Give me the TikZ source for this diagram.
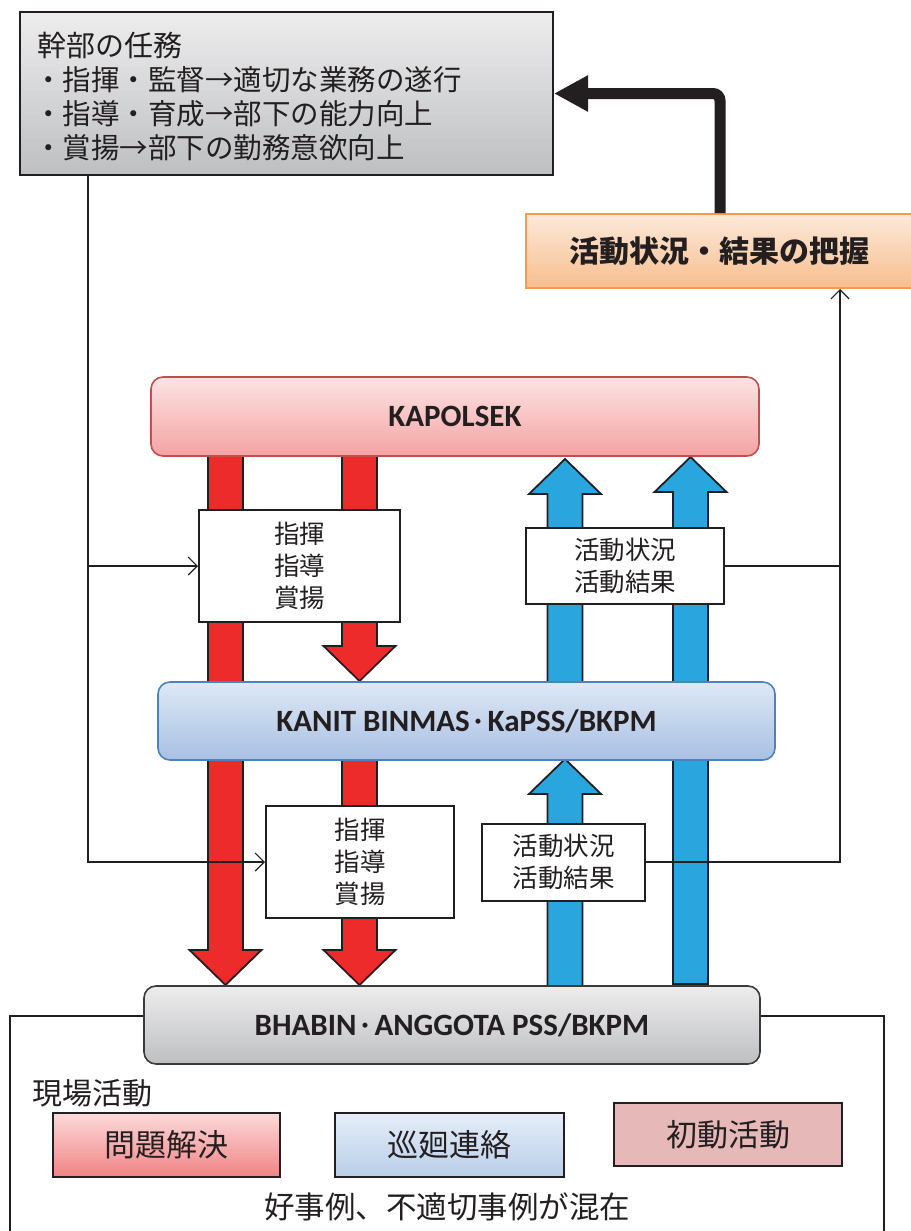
\documentclass[tikz,border=0pt]{standalone}
\usepackage{fontspec}
\newfontfamily\jp{Noto Sans CJK JP}
\newfontfamily\lat{Carlito}
\usetikzlibrary{arrows.meta}
\definecolor{ink}{HTML}{231F20}
\definecolor{redarr}{HTML}{EE2B2B}
\definecolor{bluearr}{HTML}{2AA6DF}
\definecolor{orgline}{HTML}{F39A55}
\definecolor{orgtop}{RGB}{253,233,217}
\definecolor{orgbot}{RGB}{247,190,142}
\definecolor{kapline}{RGB}{192,80,77}
\definecolor{kaptop}{RGB}{253,227,228}
\definecolor{kapbot}{RGB}{244,163,164}
\definecolor{kanline}{RGB}{79,129,189}
\definecolor{kantop}{RGB}{223,232,245}
\definecolor{kanbot}{RGB}{168,192,227}
\definecolor{bhaline}{RGB}{59,59,59}
\definecolor{graytop}{RGB}{237,237,238}
\definecolor{graybot}{RGB}{190,191,193}
\definecolor{probtop}{RGB}{252,217,218}
\definecolor{probbot}{RGB}{240,131,132}
\definecolor{pattop}{RGB}{230,238,248}
\definecolor{patbot}{RGB}{185,205,233}
\definecolor{firstfill}{RGB}{230,185,184}
\newcommand\dnarrow[4]{\filldraw[fill=#4, draw=ink, line width=1.8pt, line join=miter] (#1-17.5,#2) -- (#1+17.5,#2) -- (#1+17.5,#3-35) -- (#1+36,#3-35) -- (#1,#3) -- (#1-36,#3-35) -- (#1-17.5,#3-35) -- cycle;}
\newcommand\uparrowblk[4]{\filldraw[fill=#4, draw=ink, line width=1.8pt, line join=miter] (#1-17.5,#2) -- (#1-17.5,#3+35) -- (#1-36,#3+35) -- (#1,#3) -- (#1+36,#3+35) -- (#1+17.5,#3+35) -- (#1+17.5,#2) -- cycle;}
\newcommand\jpdot{\raisebox{3pt}{\jp\bfseries\fontsize{18}{20}\selectfont ・}}
\begin{document}
\begin{tikzpicture}[x=1pt,y=-1pt,
  whitebox/.style={draw=ink, line width=2pt, fill=white, inner sep=0pt, align=center, text=ink,
    font=\jp\fontsize{25.5}{32}\selectfont},
  level/.style={rounded corners=12pt, line width=1.6pt, inner sep=0pt, text=ink,
    font=\lat\bfseries\fontsize{31}{36}\selectfont},
  actbox/.style={draw=ink, line width=2pt, inner sep=0pt, text=ink,
    font=\jp\fontsize{31}{36}\selectfont},
  plain/.style={inner sep=0pt, text=ink, anchor=west},
  thinline/.style={draw=ink, line width=1.2pt},
  thinarr/.style={thinline, -{Straight Barb[length=9pt,width=18pt,line width=1.2pt]}},
  fatarr/.style={draw=ink, line width=11pt, rounded corners=7pt, -{Triangle[length=34pt,width=34pt]}}
]
\useasboundingbox (0,0) rectangle (910,1231);

% outer frame of field activities
\draw[ink, line width=2pt] (10,1240) -- (10,1016) -- (884,1016) -- (884,1240);

% block arrows (behind the level boxes)
\dnarrow{225.5}{450}{985}{redarr}
\dnarrow{359.5}{450}{681}{redarr}
\dnarrow{359.5}{755}{985}{redarr}
\uparrowblk{565}{690}{459}{bluearr}
\uparrowblk{565}{992}{759}{bluearr}
\uparrowblk{690.5}{984}{457}{bluearr}

% top duties box
\node[draw=ink, line width=2pt, top color=graytop, bottom color=graybot, minimum width=533pt, minimum height=163pt, inner sep=0pt] (duty) at (286.5,93.5) {};
\node[plain, font=\jp\fontsize{29}{32}\selectfont] (t0) at (37,45) {幹部の任務};
\node[plain, font=\jp\fontsize{28.5}{32}\selectfont] (t1) at (34,80) {・指揮・監督→適切な業務の遂行};
\node[plain, font=\jp\fontsize{28.5}{32}\selectfont] (t2) at (34,114) {・指導・育成→部下の能力向上};
\node[plain, font=\jp\fontsize{28.5}{32}\selectfont] (t3) at (34,148) {・賞揚→部下の勤務意欲向上};

% orange box
\node[draw=orgline, line width=2pt, top color=orgtop, bottom color=orgbot, minimum width=386pt, minimum height=74pt, inner sep=0pt, text=ink, font=\jp\bfseries\fontsize{30}{34}\selectfont] (grasp) at (719,251) {活動状況・結果の把握};

% level boxes
\node[level, draw=kapline, top color=kaptop, bottom color=kapbot, minimum width=608pt, minimum height=79pt] (kap) at (455,416.5) {KAPOLSEK};
\node[level, draw=kanline, top color=kantop, bottom color=kanbot, minimum width=617pt, minimum height=78pt] (kanit) at (466.5,721) {KANIT BINMAS\jpdot KaPSS/BKPM};
\node[level, draw=bhaline, top color=graytop, bottom color=graybot, minimum width=616pt, minimum height=78pt] (bhabin) at (452,1025) {BHABIN\jpdot ANGGOTA PSS/BKPM};

% white label boxes
\node[whitebox, minimum width=201pt, minimum height=112pt] (box1) at (299.5,566) {指揮\\指導\\賞揚};
\node[whitebox, minimum width=198pt, minimum height=76pt] (box2) at (625,566) {活動状況\\活動結果};
\node[whitebox, minimum width=188pt, minimum height=112pt] (box3) at (360,862) {指揮\\指導\\賞揚};
\node[whitebox, minimum width=163pt, minimum height=77pt] (box4) at (563.5,862) {活動状況\\活動結果};

% field activities
\node[plain, font=\jp\fontsize{30}{34}\selectfont] (field) at (32,1093) {現場活動};
\node[actbox, top color=probtop, bottom color=probbot, minimum width=227pt, minimum height=64pt] (prob) at (166.5,1145) {問題解決};
\node[actbox, top color=pattop, bottom color=patbot, minimum width=229pt, minimum height=64pt] (patrol) at (449.5,1145) {巡廻連絡};
\node[actbox, fill=firstfill, minimum width=228pt, minimum height=63pt] (first) at (728,1134.5) {初動活動};
\node[inner sep=0pt, text=ink, font=\jp\fontsize{30.5}{34}\selectfont] (mixed) at (447,1207) {好事例、不適切事例が混在};

% connectors
\coordinate (lft) at (88,0);
\coordinate (rgt) at (840,0);
\coordinate (blk) at (720,0);
\draw[fatarr] (grasp.north -| blk) |- (duty.east);
\draw[thinarr] (duty.south -| lft) |- (box3.west);
\draw[thinarr] (box1.west -| lft) -- (box1.west);
\draw[thinarr] (box4.east) -| (grasp.south -| rgt);
\draw[thinline] (box2.east) -- (box2.east -| rgt);
\end{tikzpicture}
\end{document}
